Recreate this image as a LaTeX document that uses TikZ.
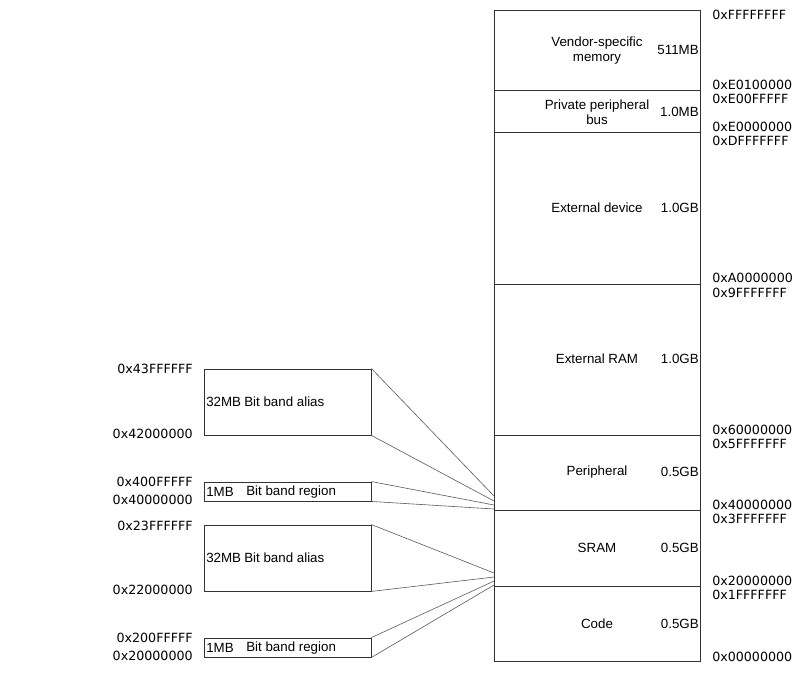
\documentclass[tikz,border=0pt]{standalone}
\usepackage{fontspec}
\setmainfont{Liberation Sans}
\newfontfamily\hexfont{DejaVu Sans}
\begin{document}
\begin{tikzpicture}[x=0.75pt,y=-0.75pt,
  region/.style={draw=black!80,line width=0.65pt,inner sep=0pt,minimum width=154.5pt},
  bandbox/.style={draw=black!80,line width=0.65pt,inner sep=0pt,minimum width=125.25pt},
  regname/.style={font=\fontsize{10}{11.3}\selectfont,align=center,inner sep=0pt},
  regsize/.style={font=\fontsize{10}{11.3}\selectfont,anchor=east,inner sep=0pt},
  addr/.style={font=\hexfont\fontsize{9.5}{11}\selectfont,anchor=west,inner sep=0pt},
  laddr/.style={font=\hexfont\fontsize{9.5}{11}\selectfont,anchor=east,inner sep=0pt},
  inlabel/.style={font=\fontsize{10}{11.3}\selectfont,anchor=west,inner sep=0pt},
  link/.style={draw=black!65,line width=0.45pt}]
\useasboundingbox (0,0) rectangle (801,676);

% memory map, top to bottom
\node[region,minimum height=60pt]    (vendor) at (597,50)    {};
\node[region,minimum height=31.5pt]  (ppb)    at (597,111)   {};
\node[region,minimum height=114pt]   (extdev) at (597,208)   {};
\node[region,minimum height=113.25pt](extram) at (597,359.5) {};
\node[region,minimum height=56.25pt] (periph) at (597,472.5) {};
\node[region,minimum height=57pt]    (sram)   at (597,548)   {};
\node[region,minimum height=56.25pt] (code)   at (597,623.5) {};

% region names and sizes
\node[regname] (vendorname) at (597,51)  {Vendor-specific\\memory};
\node[regname] (ppbname)    at (597,112) {Private peripheral\\bus};
\node[regname] (extdevname) at (597,208) {External device};
\node[regname] (extramname) at (597,359) {External RAM};
\node[regname] (periphname) at (597,472) {Peripheral};
\node[regname] (sramname)   at (597,548) {SRAM};
\node[regname] (codename)   at (597,624) {Code};

\node[regsize] (vendorsize) at (699,50)  {511MB};
\node[regsize] (ppbsize)    at (699,112) {1.0MB};
\node[regsize] (extdevsize) at (699,208) {1.0GB};
\node[regsize] (extramsize) at (699,359) {1.0GB};
\node[regsize] (periphsize) at (699,472) {0.5GB};
\node[regsize] (sramsize)   at (699,548) {0.5GB};
\node[regsize] (codesize)   at (699,624) {0.5GB};

% boundary addresses
\node[addr] (a1)  at (712,15)  {0xFFFFFFFF};
\node[addr] (a2)  at (712,85)  {0xE0100000};
\node[addr] (a3)  at (712,99)  {0xE00FFFFF};
\node[addr] (a4)  at (712,127) {0xE0000000};
\node[addr] (a5)  at (712,141) {0xDFFFFFFF};
\node[addr] (a6)  at (712,278) {0xA0000000};
\node[addr] (a7)  at (712,293) {0x9FFFFFFF};
\node[addr] (a8)  at (712,430) {0x60000000};
\node[addr] (a9)  at (712,444) {0x5FFFFFFF};
\node[addr] (a10) at (712,505) {0x40000000};
\node[addr] (a11) at (712,519) {0x3FFFFFFF};
\node[addr] (a12) at (712,581) {0x20000000};
\node[addr] (a13) at (712,595) {0x1FFFFFFF};
\node[addr] (a14) at (712,657) {0x00000000};

% bit-band boxes
\node[bandbox,minimum height=49.5pt]  (alias1)  at (287.5,402)   {};
\node[bandbox,minimum height=14.25pt] (band1)   at (287.5,491.5) {};
\node[bandbox,minimum height=49.5pt]  (alias2)  at (287.5,558)   {};
\node[bandbox,minimum height=14.25pt] (band2)   at (287.5,647.5) {};

\node[inlabel] (alias1a) at (206,402) {32MB};
\node[inlabel] (alias1b) at (244,402) {Bit band alias};
\node[inlabel] (band1a)  at (206,492) {1MB};
\node[inlabel] (band1b)  at (246,492) {Bit band region};
\node[inlabel] (alias2a) at (206,558) {32MB};
\node[inlabel] (alias2b) at (244,558) {Bit band alias};
\node[inlabel] (band2a)  at (206,648) {1MB};
\node[inlabel] (band2b)  at (246,648) {Bit band region};

\node[laddr] (l1) at (193,369) {0x43FFFFFF};
\node[laddr] (l2) at (193,434) {0x42000000};
\node[laddr] (l3) at (193,482) {0x400FFFFF};
\node[laddr] (l4) at (193,500) {0x40000000};
\node[laddr] (l5) at (193,526) {0x23FFFFFF};
\node[laddr] (l6) at (193,590) {0x22000000};
\node[laddr] (l7) at (193,638) {0x200FFFFF};
\node[laddr] (l8) at (193,656) {0x20000000};

% points where the bit-band ranges meet the memory map
\coordinate (p1) at (494,496);
\coordinate (p2) at (494,501);
\coordinate (p3) at (494,505);
\coordinate (p4) at (494,509);
\coordinate (s1) at (494,573);
\coordinate (s2) at (494,577);
\coordinate (s3) at (494,581);
\coordinate (s4) at (494,585);

\draw[link] (alias1.north east) -- (p1);
\draw[link] (alias1.south east) -- (p2);
\draw[link] (band1.north east) -- (p3);
\draw[link] (band1.south east) -- (p4);
\draw[link] (alias2.north east) -- (s1);
\draw[link] (alias2.south east) -- (s2);
\draw[link] (band2.north east) -- (s3);
\draw[link] (band2.south east) -- (s4);
\end{tikzpicture}
\end{document}
